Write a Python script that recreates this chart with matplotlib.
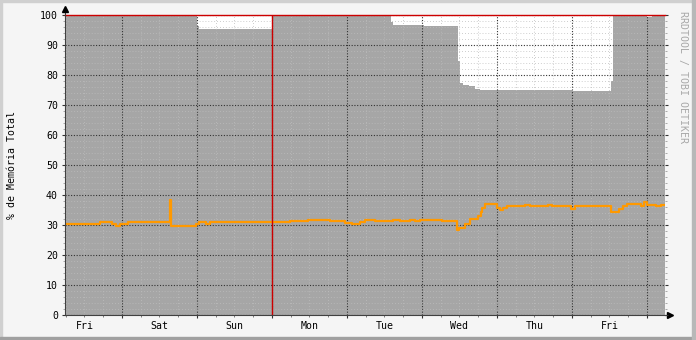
import matplotlib
matplotlib.use('Agg')
import matplotlib.pyplot as plt
from matplotlib.patches import Rectangle
from matplotlib.ticker import MultipleLocator, FuncFormatter

# Time axis in hours, measured from Saturday 00:00
t_start, t_end = -18.24, 173.76

# Day names, labelled at noon of each day
day_names = ['Fri', 'Sat', 'Sun', 'Mon', 'Tue', 'Wed', 'Thu', 'Fri']
day_noons = [-12, 12, 36, 60, 84, 108, 132, 156]

# Total memory available (top of the grey area), step changes
total_t = [-18.2, 24.0, 24.6, 48.0, 86.1, 86.7, 96.6, 107.5, 108.2, 109.1,
           111.0, 113.0, 114.6, 144.0, 156.5, 157.1, 168.0, 169.6]
total_v = [100, 96.5, 95.5, 100, 97.8, 96.7, 96.3, 84.8, 77.2, 76.7,
           76.3, 75.4, 75.1, 74.8, 78.1, 100, 99.4, 99.7]

# Memory used (orange line), step changes
used_t = [-18.2, -7.0, -3.2, -1.9, -0.6, 1.9, 15.4, 15.7, 23.7, 24.6,
          26.9, 28.2, 53.8, 59.5, 66.6, 71.4, 73.6, 76.2, 77.8, 81.0,
          85.8, 86.7, 89.0, 92.2, 93.8, 95.4, 100.8, 102.4, 107.2, 107.8,
          109.8, 111.4, 113.9, 114.9, 115.2, 116.2, 120.0, 121.0, 121.9, 123.2,
          129.0, 130.6, 136.3, 137.6, 143.7, 145.0, 153.3, 156.5, 157.8, 159.0,
          160.3, 161.6, 166.1, 167.0, 168.0, 170.9, 172.5]
used_v = [30.4, 31.0, 30.4, 29.8, 30.4, 31.0, 38.3, 29.8, 30.5, 31.0,
          30.2, 31.0, 31.2, 31.6, 31.2, 30.6, 30.2, 31.0, 31.6, 31.2,
          31.4, 31.8, 31.3, 31.8, 31.2, 31.6, 31.8, 31.4, 28.3, 28.9,
          30.3, 32.0, 33.0, 34.4, 35.8, 36.9, 35.8, 35.0, 35.8, 36.4,
          36.6, 36.3, 36.6, 36.3, 35.4, 36.2, 36.5, 34.2, 34.4, 35.3,
          36.2, 37.1, 36.3, 37.6, 36.8, 36.3, 36.8]

vrule_t = 48.0

W, H = 696, 340
L, R, B, T = 65, 665, 315, 15   # plot area in pixels

mono = 'DejaVu Sans Mono'
fs = 7.1

fig = plt.figure(figsize=(W / 100, H / 100), dpi=100)
fig.patch.set_facecolor('#F5F5F5')

# 3d style frame around the canvas
fig.patches.append(Rectangle((0, 1 - 2 / H), 1, 2 / H, transform=fig.transFigure, color='#D0D0D0', zorder=0))
fig.patches.append(Rectangle((0, 0), 2 / W, 1, transform=fig.transFigure, color='#D0D0D0', zorder=0))
fig.patches.append(Rectangle((0, 0), 1, 3 / H, transform=fig.transFigure, color='#A0A0A0', zorder=0))
fig.patches.append(Rectangle((1 - 4 / W, 0), 4 / W, 1, transform=fig.transFigure, color='#B8B8B8', zorder=0))

ax = fig.add_axes([L / W, (H - B) / H, (R - L) / W, (B - T) / H])
ax.set_facecolor('white')

# grey area and orange line, as steps
ax.fill_between(total_t + [t_end], total_v + [total_v[-1]], 0, step='post',
                color='#A6A6A6', linewidth=0, zorder=1)
ax.step(used_t + [t_end], used_v + [used_v[-1]], where='post',
        color='#FF9900', lw=1.6, zorder=4)

# red rules
ax.axhline(100, color='#CC0000', lw=1.0, zorder=5, clip_on=False)
ax.axvline(vrule_t, color='#CC0000', lw=1.0, zorder=5)

ax.set_xlim(t_start, t_end)
ax.set_ylim(0, 100)

# grid
ax.set_axisbelow(False)
ax.xaxis.set_major_locator(MultipleLocator(24))
ax.xaxis.set_minor_locator(MultipleLocator(6))
ax.yaxis.set_major_locator(MultipleLocator(10))
ax.yaxis.set_minor_locator(MultipleLocator(2))
ax.grid(which='minor', color='#BDBDBD', lw=0.6, linestyle=(0, (1, 2.5)), zorder=2)
ax.grid(which='major', color='#333333', lw=0.8, linestyle=(0, (1, 1.5)), zorder=3)

# labels at noon on minor ticks
noon_label = dict(zip(day_noons, day_names))
ax.xaxis.set_major_formatter(FuncFormatter(lambda v, p: ''))
ax.xaxis.set_minor_formatter(FuncFormatter(lambda v, p: noon_label.get(int(round(v)), '')))
ax.yaxis.set_major_formatter(FuncFormatter(lambda v, p: f'{int(v)}'))

ax.tick_params(axis='x', which='major', direction='out', length=2.5, width=0.8,
               color='#333333', top=False)
ax.tick_params(axis='x', which='minor', direction='out', length=1.5, width=0.6,
               color='#666666', pad=3, labelsize=fs, top=False)
ax.tick_params(axis='y', which='major', direction='out', length=2, width=0.8,
               color='#333333', right=True, pad=3, labelsize=fs)
ax.tick_params(axis='y', which='minor', direction='out', length=1.2, width=0.5,
               color='#888888', right=True)
for lab in ax.get_xticklabels(minor=True) + ax.get_yticklabels():
    lab.set_fontfamily(mono)

for s in ['top', 'right']:
    ax.spines[s].set_visible(False)
for s in ['left', 'bottom']:
    ax.spines[s].set_color('#404040')
    ax.spines[s].set_linewidth(0.8)
    ax.spines[s].set_zorder(6)

# axis arrows
ax.plot([0, 0], [1, 1.017], transform=ax.transAxes, color='#404040', lw=0.8, clip_on=False)
ax.plot([0], [1.02], marker='^', ms=4, color='black', transform=ax.transAxes, clip_on=False)
ax.plot([1, 1.008], [0, 0], transform=ax.transAxes, color='#404040', lw=0.8, clip_on=False)
ax.plot([1.009], [0], marker='>', ms=4, color='black', transform=ax.transAxes, clip_on=False)

fig.text(12 / W, 1 - 165 / H, '% de Memória Total', rotation=90, ha='center', va='center',
         family=mono, fontsize=fs)
fig.text(683 / W, 1 - 11 / H, 'RRDTOOL / TOBI OETIKER', rotation=270, ha='center', va='top',
         family=mono, fontsize=fs, color='#A8A8A8')

fig.savefig('out.png', dpi=100, facecolor=fig.get_facecolor())
